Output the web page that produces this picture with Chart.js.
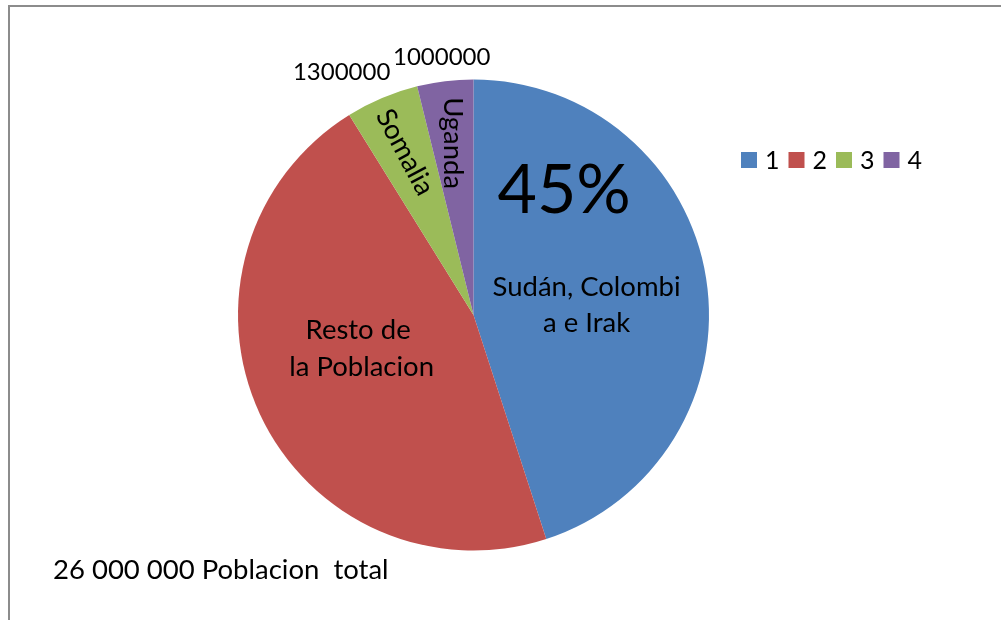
<!DOCTYPE html>
<html>
<head>
<meta charset="utf-8">
<script src="https://cdn.jsdelivr.net/npm/chart.js@4/dist/chart.umd.min.js"></script>
<style>
  html, body { margin: 0; padding: 0; background: #fff; }
  #wrap { position: relative; width: 1001px; height: 620px; overflow: hidden; }
  #frame { position: absolute; left: 8px; top: 5px; width: 1100px; height: 700px;
           border: 2px solid #8c8c8c; box-sizing: border-box; }
  canvas { position: absolute; left: 0; top: 0; }
</style>
</head>
<body>
<div id="wrap">
  <div id="frame"></div>
  <canvas id="chart" width="1001" height="620"></canvas>
</div>
<script>
'use strict';

// ── datos ───────────────────────────────────────────────────────────────────
const CATEGORIAS = ['1', '2', '3', '4'];
const NOMBRES    = ['Sudán, Colombia e Irak', 'Resto de la Poblacion', 'Somalia', 'Uganda'];
const POBLACION  = [11700000, 12000000, 1300000, 1000000];
const TOTAL_TXT  = '26 000 000 Poblacion  total';
const COLORES    = ['#4f81bd', '#c0504d', '#9bbb59', '#8064a2'];

const FONT = 'Lato, "Open Sans", sans-serif';

// ── etiquetas dentro / fuera del pastel ─────────────────────────────────────
const etiquetas = {
    id: 'etiquetas',
    afterDatasetsDraw(chart) {
        const ctx = chart.ctx;
        const arcs = chart.getDatasetMeta(0).data;
        const cx = arcs[0].x, cy = arcs[0].y, r = arcs[0].outerRadius;
        const total = POBLACION.reduce((a, b) => a + b, 0);

        ctx.save();
        ctx.fillStyle = '#000';
        ctx.textAlign = 'center';
        ctx.textBaseline = 'middle';

        // porcentaje grande del sector 1
        ctx.font = `68px ${FONT}`;
        ctx.fillText(Math.round(POBLACION[0] / total * 100) + '%', cx + 0.385 * r, cy - 0.525 * r);

        ctx.font = `27.5px ${FONT}`;
        ctx.fillText('Sudán, Colombi', cx + 0.48 * r, cy - 0.12 * r);
        ctx.fillText('a e Irak', cx + 0.48 * r, cy + 0.035 * r);

        ctx.fillText('Resto de', cx - 0.49 * r, cy + 0.065 * r);
        ctx.fillText('la Poblacion', cx - 0.475 * r, cy + 0.22 * r);

        // textos girados de los sectores pequeños
        const girado = (txt, arc, frac, rot) => {
            const a = (arc.startAngle + arc.endAngle) / 2;
            ctx.save();
            ctx.translate(cx + Math.cos(a) * r * frac, cy + Math.sin(a) * r * frac);
            ctx.rotate(rot);
            ctx.fillText(txt, 0, 0);
            ctx.restore();
        };
        girado(NOMBRES[2], arcs[2], 0.75, 62 * Math.PI / 180);
        girado(NOMBRES[3], arcs[3], 0.735, Math.PI / 2);

        // valores fuera
        ctx.font = `24px ${FONT}`;
        ctx.fillText(String(POBLACION[2]), cx - 0.56 * r, cy - 1.03 * r);
        ctx.fillText(String(POBLACION[3]), cx - 0.135 * r, cy - 1.095 * r);

        // total de población
        ctx.font = `27.5px ${FONT}`;
        ctx.textAlign = 'left';
        ctx.fillText(TOTAL_TXT, 53, cy + 1.085 * r);

        // leyenda
        ctx.font = `25px ${FONT}`;
        let x = 741;
        const y = 160;
        CATEGORIAS.forEach((c, i) => {
            ctx.fillStyle = COLORES[i];
            ctx.fillRect(x, y - 8, 16, 16);
            ctx.fillStyle = '#000';
            ctx.textAlign = 'left';
            ctx.fillText(c, x + 24, y + 1);
            x += 47.5;
        });
        ctx.restore();
    },
};

new Chart(document.getElementById('chart'), {
    type: 'pie',
    data: {
        labels: CATEGORIAS,
        datasets: [{
            data: POBLACION,
            backgroundColor: COLORES,
            borderWidth: 0,
        }],
    },
    options: {
        responsive: false,
        animation: false,
        layout: { padding: { left: 238, right: 292, top: 78, bottom: 68 } },
        plugins: {
            legend: { display: false },
            tooltip: { enabled: false },
        },
    },
    plugins: [etiquetas],
});
</script>
</body>
</html>
